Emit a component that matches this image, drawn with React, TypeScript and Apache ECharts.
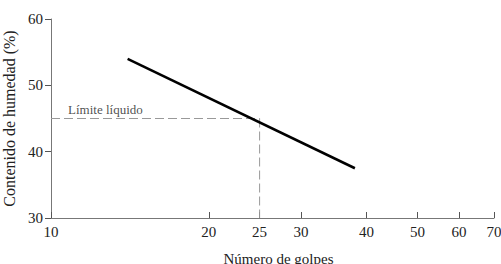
import React, { useEffect, useRef } from "react";
import * as echarts from "echarts";

const xTicks = [10, 20, 25, 30, 40, 50, 60, 70];
const yTicks = [30, 40, 50, 60];
const flowLine = [
  [14, 54],
  [38, 37.5],
];
const llHoriz = [
  [10, 45],
  [25, 45],
];
const llVert = [
  [25, 45],
  [25, 30],
];
const llLabelPoint = [[12.7, 45]];

const FONT = "'Liberation Serif', 'Times New Roman', serif";

export default function App() {
  const ref = useRef<HTMLDivElement>(null);
  useEffect(() => {
    const chart = echarts.init(ref.current!, null, { renderer: "svg" });
    chart.setOption({
      animation: false,
      backgroundColor: "#fff",
      grid: { left: 51, right: 7, top: 19, bottom: 46, containLabel: false, outerBoundsMode: "none" },
      xAxis: {
        type: "log",
        logBase: 10,
        min: 10,
        max: 70,
        name: "Número de golpes",
        nameLocation: "middle",
        nameGap: 33,
        nameTextStyle: { fontFamily: FONT, fontSize: 15, color: "#222", padding: [0, 0, 0, 12] },
        axisLine: { show: true, lineStyle: { color: "#777", width: 1 } },
        axisTick: { show: true, inside: true, length: 6, customValues: xTicks, lineStyle: { color: "#555" } },
        axisLabel: { customValues: xTicks, fontFamily: FONT, fontSize: 15, color: "#222", margin: 6 },
        splitLine: { show: false },
        minorTick: { show: false },
      },
      yAxis: {
        type: "value",
        min: 30,
        max: 60,
        interval: 10,
        name: "Contenido de humedad (%)",
        nameLocation: "middle",
        nameGap: 34,
        nameTextStyle: { fontFamily: FONT, fontSize: 16, color: "#222" },
        axisLine: { show: true, lineStyle: { color: "#777", width: 1 } },
        axisTick: { show: true, length: 6, lineStyle: { color: "#555" } },
        axisLabel: { fontFamily: FONT, fontSize: 15, color: "#222", margin: 8 },
        splitLine: { show: false },
      },
      series: [
        {
          type: "line",
          data: llHoriz,
          symbol: "none",
          lineStyle: { color: "#999", width: 1, type: [9, 4] },
          silent: true,
        },
        {
          type: "line",
          data: llVert,
          symbol: "none",
          lineStyle: { color: "#999", width: 1, type: [9, 4] },
          silent: true,
        },
        {
          type: "line",
          data: flowLine,
          symbol: "none",
          lineStyle: { color: "#000", width: 2.5 },
          silent: true,
        },
        {
          type: "scatter",
          data: llLabelPoint,
          symbolSize: 0,
          label: {
            show: true,
            position: "top",
            distance: 3,
            formatter: "Límite líquido",
            fontFamily: FONT,
            fontSize: 13,
            color: "#222",
          },
          silent: true,
        },
      ],
    });
    return () => chart.dispose();
  }, []);
  return <div ref={ref} style={{ width: 501, height: 264, position: "absolute", left: 0, top: 0 }} />;
}
